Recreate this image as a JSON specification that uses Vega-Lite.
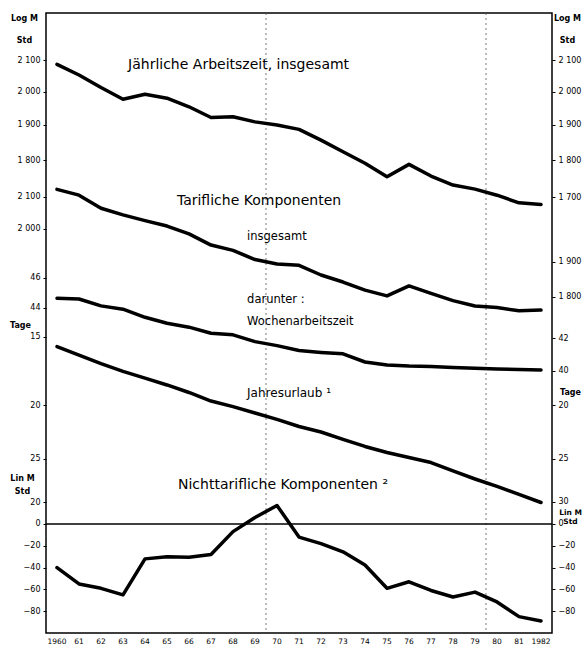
{
  "$schema": "https://vega.github.io/schema/vega-lite/v6.json",
  "width": 506,
  "height": 620,
  "autosize": {"type": "none"},
  "padding": {"left": 46, "top": 13, "right": 33, "bottom": 15},
  "background": "white",
  "config": {
    "view": {"stroke": "#000", "strokeWidth": 1.5},
    "axis": {
      "labelFont": "DejaVu Sans", "labelFontSize": 8, "labelColor": "#000",
      "tickColor": "#000", "tickSize": 3, "tickWidth": 1, "labelPadding": 3,
      "domain": false, "grid": false,
      "titleFont": "DejaVu Sans", "titleFontSize": 8, "titleFontWeight": "bold", "titleColor": "#000"
    }
  },
  "datasets": {
    "years": [
      {"year": 1960, "lab": "1960"}, {"year": 1961, "lab": "61"}, {"year": 1962, "lab": "62"}, {"year": 1963, "lab": "63"},
      {"year": 1964, "lab": "64"}, {"year": 1965, "lab": "65"}, {"year": 1966, "lab": "66"}, {"year": 1967, "lab": "67"},
      {"year": 1968, "lab": "68"}, {"year": 1969, "lab": "69"}, {"year": 1970, "lab": "70"}, {"year": 1971, "lab": "71"},
      {"year": 1972, "lab": "72"}, {"year": 1973, "lab": "73"}, {"year": 1974, "lab": "74"}, {"year": 1975, "lab": "75"},
      {"year": 1976, "lab": "76"}, {"year": 1977, "lab": "77"}, {"year": 1978, "lab": "78"}, {"year": 1979, "lab": "79"},
      {"year": 1980, "lab": "80"}, {"year": 1981, "lab": "81"}, {"year": 1982, "lab": "1982"}
    ],
    "p1": [
      {"year": 1960, "v": 2086}, {"year": 1961, "v": 2052}, {"year": 1962, "v": 2013}, {"year": 1963, "v": 1977},
      {"year": 1964, "v": 1992}, {"year": 1965, "v": 1980}, {"year": 1966, "v": 1954}, {"year": 1967, "v": 1922},
      {"year": 1968, "v": 1924}, {"year": 1969, "v": 1909}, {"year": 1970, "v": 1900}, {"year": 1971, "v": 1887},
      {"year": 1972, "v": 1856}, {"year": 1973, "v": 1823}, {"year": 1974, "v": 1791}, {"year": 1975, "v": 1754},
      {"year": 1976, "v": 1788}, {"year": 1977, "v": 1756}, {"year": 1978, "v": 1732}, {"year": 1979, "v": 1721},
      {"year": 1980, "v": 1705}, {"year": 1981, "v": 1685}, {"year": 1982, "v": 1681}
    ],
    "p2": [
      {"year": 1960, "v": 2125}, {"year": 1961, "v": 2106}, {"year": 1962, "v": 2064}, {"year": 1963, "v": 2043},
      {"year": 1964, "v": 2025}, {"year": 1965, "v": 2008}, {"year": 1966, "v": 1984}, {"year": 1967, "v": 1950},
      {"year": 1968, "v": 1934}, {"year": 1969, "v": 1907}, {"year": 1970, "v": 1894}, {"year": 1971, "v": 1890},
      {"year": 1972, "v": 1862}, {"year": 1973, "v": 1842}, {"year": 1974, "v": 1819}, {"year": 1975, "v": 1803},
      {"year": 1976, "v": 1831}, {"year": 1977, "v": 1810}, {"year": 1978, "v": 1790}, {"year": 1979, "v": 1775},
      {"year": 1980, "v": 1771}, {"year": 1981, "v": 1762}, {"year": 1982, "v": 1764}
    ],
    "p3": [
      {"year": 1960, "v": 44.62}, {"year": 1961, "v": 44.57}, {"year": 1962, "v": 44.11}, {"year": 1963, "v": 43.89},
      {"year": 1964, "v": 43.36}, {"year": 1965, "v": 42.97}, {"year": 1966, "v": 42.72}, {"year": 1967, "v": 42.33},
      {"year": 1968, "v": 42.23}, {"year": 1969, "v": 41.8}, {"year": 1970, "v": 41.55}, {"year": 1971, "v": 41.25},
      {"year": 1972, "v": 41.13}, {"year": 1973, "v": 41.04}, {"year": 1974, "v": 40.54}, {"year": 1975, "v": 40.36},
      {"year": 1976, "v": 40.3}, {"year": 1977, "v": 40.27}, {"year": 1978, "v": 40.21}, {"year": 1979, "v": 40.16},
      {"year": 1980, "v": 40.12}, {"year": 1981, "v": 40.08}, {"year": 1982, "v": 40.06}
    ],
    "p4": [
      {"year": 1960, "v": 15.62}, {"year": 1961, "v": 16.19}, {"year": 1962, "v": 16.78}, {"year": 1963, "v": 17.33},
      {"year": 1964, "v": 17.83}, {"year": 1965, "v": 18.35}, {"year": 1966, "v": 18.94}, {"year": 1967, "v": 19.63},
      {"year": 1968, "v": 20.1}, {"year": 1969, "v": 20.64}, {"year": 1970, "v": 21.21}, {"year": 1971, "v": 21.85},
      {"year": 1972, "v": 22.36}, {"year": 1973, "v": 23.07}, {"year": 1974, "v": 23.76}, {"year": 1975, "v": 24.37},
      {"year": 1976, "v": 24.89}, {"year": 1977, "v": 25.42}, {"year": 1978, "v": 26.34}, {"year": 1979, "v": 27.24},
      {"year": 1980, "v": 28.11}, {"year": 1981, "v": 29.07}, {"year": 1982, "v": 30.07}
    ],
    "p5": [
      {"year": 1960, "v": -40}, {"year": 1961, "v": -55}, {"year": 1962, "v": -59}, {"year": 1963, "v": -65},
      {"year": 1964, "v": -32}, {"year": 1965, "v": -30}, {"year": 1966, "v": -30.5}, {"year": 1967, "v": -28},
      {"year": 1968, "v": -7}, {"year": 1969, "v": 6}, {"year": 1970, "v": 17}, {"year": 1971, "v": -12},
      {"year": 1972, "v": -18}, {"year": 1973, "v": -25.5}, {"year": 1974, "v": -37.6}, {"year": 1975, "v": -59},
      {"year": 1976, "v": -53}, {"year": 1977, "v": -61}, {"year": 1978, "v": -67}, {"year": 1979, "v": -62.5},
      {"year": 1980, "v": -71.5}, {"year": 1981, "v": -85}, {"year": 1982, "v": -89}
    ],
    "labels": [
      {"panel": "p1", "year": 1963.23, "v": 2084, "t": "Jährliche Arbeitszeit, insgesamt", "big": true},
      {"panel": "p2", "year": 1965.45, "v": 2088, "t": "Tarifliche Komponenten", "big": true},
      {"panel": "p2", "year": 1968.64, "v": 1975, "t": "insgesamt", "big": false},
      {"panel": "p3", "year": 1968.64, "v": 44.51, "t": "darunter :", "big": false},
      {"panel": "p3", "year": 1968.64, "v": 43.06, "t": "Wochenarbeitszeit", "big": false},
      {"panel": "p4", "year": 1968.64, "v": 18.98, "t": "Jahresurlaub ¹", "big": false},
      {"panel": "p5", "year": 1965.5, "v": 35.8, "t": "Nichttarifliche Komponenten ²", "big": true}
    ],
    "dividers": [{"year": 1969.5}, {"year": 1979.5}],
    "zero": [{"v": 0}]
  },
  "layer": [
    {
      "data": {"name": "dividers"},
      "mark": {"type": "rule", "color": "#555", "strokeWidth": 0.8, "strokeDash": [2, 3]},
      "encoding": {
        "x": {"field": "year", "type": "quantitative", "scale": {"domain": [1959.5, 1982.5], "nice": false, "zero": false}, "axis": null}
      }
    },
    {
      "data": {"name": "years"},
      "mark": {"type": "text", "baseline": "top", "font": "DejaVu Sans", "fontSize": 7.5, "color": "#000", "dy": 5},
      "encoding": {
        "x": {"field": "year", "type": "quantitative", "scale": {"domain": [1959.5, 1982.5], "nice": false, "zero": false},
          "axis": {"values": [1959.5,1960.5,1961.5,1962.5,1963.5,1964.5,1965.5,1966.5,1967.5,1968.5,1969.5,1970.5,1971.5,1972.5,1973.5,1974.5,1975.5,1976.5,1977.5,1978.5,1979.5,1980.5,1981.5,1982.5],
            "labels": false, "title": null, "tickSize": 3}},
        "y": {"datum": -100, "type": "quantitative", "scale": {"type": "linear", "domain": [-100, 468.8], "nice": false, "zero": false}, "axis": null},
        "text": {"field": "lab", "type": "nominal"}
      }
    },
    {
      "data": {"name": "p1"},
      "mark": {"type": "line", "color": "#000", "strokeWidth": 3.5, "strokeJoin": "round", "strokeCap": "round"},
      "encoding": {
        "x": {"field": "year", "type": "quantitative", "scale": {"domain": [1959.5, 1982.5], "nice": false, "zero": false}, "axis": null},
        "y": {"field": "v", "type": "quantitative", "scale": {"type": "log", "domain": [868.2, 2257.9], "nice": false},
          "axis": {"orient": "left", "values": [1800, 1900, 2000, 2100], "labelExpr": "replace(format(datum.value, ','), ',', ' ')",
            "title": ["Log M", "Std"], "titleAngle": 0, "titleAlign": "center", "titleBaseline": "top", "titleX": -22, "titleY": 1, "titleLineHeight": 22}}
      }
    },
    {
      "data": {"name": "labels"},
      "transform": [{"filter": "datum.panel === 'p1'"}],
      "mark": {"type": "text", "align": "left", "baseline": "middle", "font": "DejaVu Sans", "fontSize": 14, "color": "#000"},
      "encoding": {
        "x": {"field": "year", "type": "quantitative", "scale": {"domain": [1959.5, 1982.5], "nice": false, "zero": false}, "axis": null},
        "y": {"field": "v", "type": "quantitative", "scale": {"type": "log", "domain": [868.2, 2257.9], "nice": false},
          "axis": {"orient": "right", "values": [1700, 1800, 1900, 2000, 2100], "labelExpr": "replace(format(datum.value, ','), ',', ' ')",
            "title": ["Log M", "Std"], "titleAngle": 0, "titleAlign": "center", "titleBaseline": "top", "titleX": 15, "titleY": 1, "titleLineHeight": 22}},
        "text": {"field": "t"}
      }
    },
    {
      "data": {"name": "p2"},
      "mark": {"type": "line", "color": "#000", "strokeWidth": 3.5, "strokeJoin": "round", "strokeCap": "round"},
      "encoding": {
        "x": {"field": "year", "type": "quantitative", "scale": {"domain": [1959.5, 1982.5], "nice": false, "zero": false}, "axis": null},
        "y": {"field": "v", "type": "quantitative", "scale": {"type": "log", "domain": [1072.3, 2788.7], "nice": false},
          "axis": {"orient": "left", "values": [2000, 2100], "labelExpr": "replace(format(datum.value, ','), ',', ' ')", "title": null}}
      }
    },
    {
      "data": {"name": "labels"},
      "transform": [{"filter": "datum.panel === 'p2'"}],
      "mark": {"type": "text", "align": "left", "baseline": "middle", "font": "DejaVu Sans", "color": "#000"},
      "encoding": {
        "x": {"field": "year", "type": "quantitative", "scale": {"domain": [1959.5, 1982.5], "nice": false, "zero": false}, "axis": null},
        "y": {"field": "v", "type": "quantitative", "scale": {"type": "log", "domain": [1072.3, 2788.7], "nice": false},
          "axis": {"orient": "right", "values": [1800, 1900], "labelExpr": "replace(format(datum.value, ','), ',', ' ')", "title": null}},
        "text": {"field": "t"},
        "size": {"condition": {"test": "datum.big", "value": 14}, "value": 11.5}
      }
    },
    {
      "data": {"name": "p3"},
      "mark": {"type": "line", "color": "#000", "strokeWidth": 3.5, "strokeJoin": "round", "strokeCap": "round"},
      "encoding": {
        "x": {"field": "year", "type": "quantitative", "scale": {"domain": [1959.5, 1982.5], "nice": false, "zero": false}, "axis": null},
        "y": {"field": "v", "type": "quantitative", "scale": {"type": "log", "domain": [26.97, 68.52], "nice": false},
          "axis": {"orient": "left", "values": [44, 46], "labelExpr": "format(datum.value, 'd')", "title": null}}
      }
    },
    {
      "data": {"name": "labels"},
      "transform": [{"filter": "datum.panel === 'p3'"}],
      "mark": {"type": "text", "align": "left", "baseline": "middle", "font": "DejaVu Sans", "fontSize": 11.5, "color": "#000"},
      "encoding": {
        "x": {"field": "year", "type": "quantitative", "scale": {"domain": [1959.5, 1982.5], "nice": false, "zero": false}, "axis": null},
        "y": {"field": "v", "type": "quantitative", "scale": {"type": "log", "domain": [26.97, 68.52], "nice": false},
          "axis": {"orient": "right", "values": [40, 42], "labelExpr": "format(datum.value, 'd')", "title": null}},
        "text": {"field": "t"}
      }
    },
    {
      "data": {"name": "p4"},
      "mark": {"type": "line", "color": "#000", "strokeWidth": 3.5, "strokeJoin": "round", "strokeCap": "round"},
      "encoding": {
        "x": {"field": "year", "type": "quantitative", "scale": {"domain": [1959.5, 1982.5], "nice": false, "zero": false}, "axis": null},
        "y": {"field": "v", "type": "quantitative", "scale": {"type": "log", "domain": [3.845, 52.03], "reverse": true, "nice": false},
          "axis": {"orient": "left", "values": [15, 20, 25], "labelExpr": "format(datum.value, 'd')",
            "title": "Tage", "titleAngle": 0, "titleAlign": "center", "titleBaseline": "top", "titleX": -26, "titleY": 308}}
      }
    },
    {
      "data": {"name": "labels"},
      "transform": [{"filter": "datum.panel === 'p4'"}],
      "mark": {"type": "text", "align": "left", "baseline": "middle", "font": "DejaVu Sans", "fontSize": 12, "color": "#000"},
      "encoding": {
        "x": {"field": "year", "type": "quantitative", "scale": {"domain": [1959.5, 1982.5], "nice": false, "zero": false}, "axis": null},
        "y": {"field": "v", "type": "quantitative", "scale": {"type": "log", "domain": [3.845, 52.03], "reverse": true, "nice": false},
          "axis": {"orient": "right", "values": [20, 25, 30], "labelExpr": "format(datum.value, 'd')",
            "title": "Tage", "titleAngle": 0, "titleAlign": "center", "titleBaseline": "top", "titleX": 18, "titleY": 375}},
        "text": {"field": "t"}
      }
    },
    {
      "data": {"name": "zero"},
      "mark": {"type": "rule", "color": "#000", "strokeWidth": 1.5},
      "encoding": {
        "y": {"field": "v", "type": "quantitative", "scale": {"type": "linear", "domain": [-100, 468.8], "nice": false, "zero": false}, "axis": null}
      }
    },
    {
      "data": {"name": "p5"},
      "mark": {"type": "line", "color": "#000", "strokeWidth": 3.5, "strokeJoin": "round", "strokeCap": "round"},
      "encoding": {
        "x": {"field": "year", "type": "quantitative", "scale": {"domain": [1959.5, 1982.5], "nice": false, "zero": false}, "axis": null},
        "y": {"field": "v", "type": "quantitative", "scale": {"type": "linear", "domain": [-100, 468.8], "nice": false, "zero": false},
          "axis": {"orient": "left", "values": [-80, -60, -40, -20, 0, 20], "labelExpr": "format(datum.value, 'd')",
            "title": ["Lin M", "Std"], "titleAngle": 0, "titleAlign": "center", "titleBaseline": "top", "titleX": -24, "titleY": 461, "titleLineHeight": 13}}
      }
    },
    {
      "data": {"name": "labels"},
      "transform": [{"filter": "datum.panel === 'p5'"}],
      "mark": {"type": "text", "align": "left", "baseline": "middle", "font": "DejaVu Sans", "fontSize": 14, "color": "#000"},
      "encoding": {
        "x": {"field": "year", "type": "quantitative", "scale": {"domain": [1959.5, 1982.5], "nice": false, "zero": false}, "axis": null},
        "y": {"field": "v", "type": "quantitative", "scale": {"type": "linear", "domain": [-100, 468.8], "nice": false, "zero": false},
          "axis": {"orient": "right", "values": [-80, -60, -40, -20, 0], "labelExpr": "format(datum.value, 'd')",
            "title": ["Lin M", "Std"], "titleAngle": 0, "titleAlign": "center", "titleBaseline": "top", "titleX": 18, "titleY": 495, "titleLineHeight": 9, "titleFontSize": 7.5}},
        "text": {"field": "t"}
      }
    }
  ],
  "resolve": {"scale": {"y": "independent"}, "axis": {"y": "independent"}}
}
